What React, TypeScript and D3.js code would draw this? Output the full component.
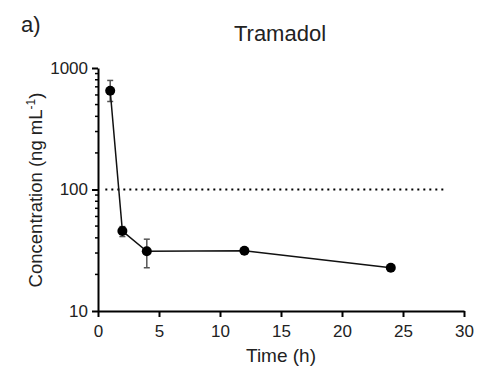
import React, { useEffect, useRef } from "react";
import * as d3 from "d3";

// Tramadol concentration over time
const times = [1, 2, 4, 12, 24];
const means = [650, 45.5, 31, 31.3, 22.7];
const upper = [790, 49.5, 39, 32.2, 23.2];
const lower = [530, 41, 22.7, 30.4, 22.2];
const xTicks = [0, 5, 10, 15, 20, 25, 30];
const yTicks = [10, 100, 1000];
const threshold = 100;
const thresholdSpan = [0.6, 28.5];

export default function App() {
  const ref = useRef<SVGSVGElement>(null);

  useEffect(() => {
    const svg = d3.select(ref.current);
    svg.selectAll("*").remove();

    const width = 500;
    const height = 371;
    const marginLeft = 98;
    const marginRight = 36;
    const marginTop = 68;
    const marginBottom = 60;

    const x = d3.scaleLinear().domain([0, 30]).range([marginLeft, width - marginRight]);
    const y = d3.scaleLog().domain([10, 1000]).range([height - marginBottom, marginTop]);

    const font = "'Liberation Sans', Arial, sans-serif";

    // x axis
    const gx = svg
      .append("g")
      .attr("transform", `translate(0,${height - marginBottom})`)
      .call(d3.axisBottom(x).tickValues(xTicks).tickSize(6).tickPadding(8).tickSizeOuter(0));
    gx.selectAll("text").attr("font-size", 17).attr("font-family", font).attr("fill", "#222");
    gx.selectAll("line, path").attr("stroke", "#000").attr("stroke-width", 2);

    // y axis, major ticks
    const gy = svg
      .append("g")
      .attr("transform", `translate(${marginLeft},0)`)
      .call(
        d3.axisLeft(y).tickValues(yTicks).tickFormat(d3.format("d")).tickSize(6).tickPadding(4).tickSizeOuter(0)
      );
    gy.selectAll("text").attr("font-size", 17).attr("font-family", font).attr("fill", "#222");
    gy.selectAll("line, path").attr("stroke", "#000").attr("stroke-width", 2);

    // y minor ticks
    const minor: number[] = [];
    [10, 100].forEach((dec) => {
      for (let k = 2; k <= 9; k++) minor.push(dec * k);
    });
    svg
      .append("g")
      .selectAll("line")
      .data(minor)
      .join("line")
      .attr("x1", marginLeft - 3)
      .attr("x2", marginLeft)
      .attr("y1", (d) => y(d))
      .attr("y2", (d) => y(d))
      .attr("stroke", "#000")
      .attr("stroke-width", 1.5);

    // threshold
    svg
      .append("line")
      .attr("x1", x(thresholdSpan[0]))
      .attr("x2", x(thresholdSpan[1]))
      .attr("y1", y(threshold))
      .attr("y2", y(threshold))
      .attr("stroke", "#000")
      .attr("stroke-width", 2)
      .attr("stroke-dasharray", "2,4");

    // error bars
    const eb = svg.append("g").attr("stroke", "#555").attr("stroke-width", 1.5);
    times.forEach((t, i) => {
      eb.append("line").attr("x1", x(t)).attr("x2", x(t)).attr("y1", y(upper[i])).attr("y2", y(lower[i]));
      [upper[i], lower[i]].forEach((v) =>
        eb.append("line").attr("x1", x(t) - 3).attr("x2", x(t) + 3).attr("y1", y(v)).attr("y2", y(v))
      );
    });

    // line
    const line = d3
      .line<number>()
      .x((_, i) => x(times[i]))
      .y((d) => y(d));
    svg
      .append("path")
      .datum(means)
      .attr("fill", "none")
      .attr("stroke", "#111")
      .attr("stroke-width", 1.5)
      .attr("d", line);

    // points
    svg
      .append("g")
      .selectAll("circle")
      .data(means)
      .join("circle")
      .attr("cx", (_, i) => x(times[i]))
      .attr("cy", (d) => y(d))
      .attr("r", 5)
      .attr("fill", "#000");

    // texts
    svg
      .append("text")
      .attr("x", 21)
      .attr("y", 32)
      .attr("font-family", font)
      .attr("font-size", 22)
      .attr("fill", "#222")
      .text("a)");

    svg
      .append("text")
      .attr("x", 280)
      .attr("y", 41)
      .attr("text-anchor", "middle")
      .attr("font-family", font)
      .attr("font-size", 22)
      .attr("fill", "#222")
      .text("Tramadol");

    svg
      .append("text")
      .attr("x", 281)
      .attr("y", 362)
      .attr("text-anchor", "middle")
      .attr("font-family", font)
      .attr("font-size", 19)
      .attr("fill", "#222")
      .text("Time (h)");

    const yl = svg
      .append("text")
      .attr("transform", `translate(42,190) rotate(-90)`)
      .attr("text-anchor", "middle")
      .attr("font-family", font)
      .attr("font-size", 18.5)
      .attr("fill", "#222");
    yl.append("tspan").text("Concentration (ng mL");
    yl.append("tspan").attr("dy", -7).attr("font-size", 12).text("-1");
    yl.append("tspan").attr("dy", 7).text(")");
  }, []);

  return (
    <svg
      ref={ref}
      width={500}
      height={371}
      style={{ position: "absolute", left: 0, top: 0, background: "#fff" }}
    />
  );
}
